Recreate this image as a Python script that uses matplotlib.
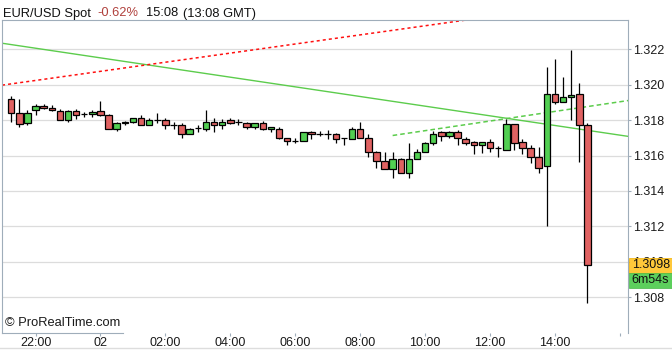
import numpy as np
import pandas as pd
import matplotlib
matplotlib.use('Agg')
import matplotlib.pyplot as plt
import matplotlib.dates as mdates
from matplotlib.patches import Rectangle
from matplotlib.transforms import IdentityTransform

plt.rcParams['font.family'] = ['Liberation Sans', 'DejaVu Sans']

# EUR/USD spot, 15 minute candles
first_bar = '2012-11-01 21:15'
opens = [1.31917, 1.31842, 1.31785, 1.31855, 1.31881, 1.31870, 1.31853, 1.31802,
         1.31853, 1.31834, 1.31832, 1.31853, 1.31830, 1.31751, 1.31791, 1.31789,
         1.31814, 1.31774, 1.31800, 1.31802, 1.31770, 1.31774, 1.31723, 1.31753,
         1.31751, 1.31791, 1.31774, 1.31802, 1.31789, 1.31785, 1.31763, 1.31785,
         1.31751, 1.31751, 1.31701, 1.31681, 1.31684, 1.31735, 1.31723, 1.31723,
         1.31723, 1.31697, 1.31695, 1.31751, 1.31701, 1.31622, 1.31571, 1.31526,
         1.31582, 1.31503, 1.31582, 1.31622, 1.31672, 1.31735, 1.31712, 1.31735,
         1.31695, 1.31674, 1.31661, 1.31674, 1.31644, 1.31633, 1.31776, 1.31674,
         1.31644, 1.31593, 1.31540, 1.31945, 1.31904, 1.31932, 1.31945, 1.31774]
highs = [1.31935, 1.31917, 1.31856, 1.31890, 1.31890, 1.31883, 1.31860, 1.31856,
         1.31864, 1.31845, 1.31856, 1.31906, 1.31832, 1.31787, 1.31793, 1.31814,
         1.31827, 1.31811, 1.31842, 1.31814, 1.31791, 1.31785, 1.31753, 1.31774,
         1.31855, 1.31814, 1.31804, 1.31814, 1.31806, 1.31789, 1.31785, 1.31793,
         1.31763, 1.31763, 1.31701, 1.31701, 1.31735, 1.31736, 1.31738, 1.31742,
         1.31725, 1.31697, 1.31760, 1.31791, 1.31723, 1.31623, 1.31622, 1.31622,
         1.31584, 1.31672, 1.31635, 1.31674, 1.31738, 1.31738, 1.31738, 1.31745,
         1.31702, 1.31681, 1.31674, 1.31695, 1.31652, 1.31806, 1.31779, 1.31691,
         1.31657, 1.31648, 1.32101, 1.32143, 1.32045, 1.32193, 1.32011, 1.31785]
lows = [1.31789, 1.31763, 1.31774, 1.31828, 1.31864, 1.31849, 1.31798, 1.31791,
        1.31804, 1.31815, 1.31815, 1.31823, 1.31750, 1.31738, 1.31772, 1.31783,
        1.31772, 1.31774, 1.31785, 1.31751, 1.31748, 1.31698, 1.31719, 1.31735,
        1.31736, 1.31732, 1.31751, 1.31780, 1.31774, 1.31749, 1.31751, 1.31742,
        1.31735, 1.31695, 1.31659, 1.31670, 1.31684, 1.31693, 1.31708, 1.31695,
        1.31668, 1.31661, 1.31694, 1.31700, 1.31591, 1.31531, 1.31525, 1.31475,
        1.31502, 1.31475, 1.31581, 1.31621, 1.31659, 1.31684, 1.31697, 1.31660,
        1.31657, 1.31610, 1.31614, 1.31619, 1.31593, 1.31632, 1.31633, 1.31608,
        1.31556, 1.31499, 1.31202, 1.31893, 1.31903, 1.31800, 1.31563, 1.30769]
closes = [1.31842, 1.31776, 1.31842, 1.31881, 1.31870, 1.31855, 1.31802, 1.31851,
          1.31827, 1.31834, 1.31843, 1.31830, 1.31751, 1.31785, 1.31785, 1.31811,
          1.31772, 1.31802, 1.31800, 1.31774, 1.31770, 1.31721, 1.31751, 1.31753,
          1.31789, 1.31774, 1.31791, 1.31785, 1.31789, 1.31763, 1.31785, 1.31751,
          1.31763, 1.31701, 1.31684, 1.31681, 1.31735, 1.31723, 1.31723, 1.31723,
          1.31695, 1.31697, 1.31751, 1.31701, 1.31622, 1.31569, 1.31526, 1.31582,
          1.31503, 1.31582, 1.31622, 1.31672, 1.31723, 1.31712, 1.31735, 1.31697,
          1.31672, 1.31661, 1.31674, 1.31644, 1.31644, 1.31776, 1.31672, 1.31644,
          1.31593, 1.31531, 1.31945, 1.31904, 1.31932, 1.31943, 1.31774, 1.30980]

# trend lines drawn on the chart: (time, price) anchors
green_line_t = ['2012-11-01 21:00', '2012-11-02 16:00']
green_line_p = [1.32233, 1.31715]
red_line_t = ['2012-11-01 21:00', '2012-11-02 08:00']
red_line_p = [1.31998, 1.32281]
green_dash_t = ['2012-11-02 09:00', '2012-11-02 16:30']
green_dash_p = [1.31713, 1.31917]

tick_times = ['2012-11-01 22:00', '2012-11-02 00:00', '2012-11-02 02:00',
              '2012-11-02 04:00', '2012-11-02 06:00', '2012-11-02 08:00',
              '2012-11-02 10:00', '2012-11-02 12:00', '2012-11-02 14:00',
              '2012-11-02 16:00']
tick_labels = ['22:00', '02', '02:00', '04:00', '06:00', '08:00', '10:00',
               '12:00', '14:00', '']
price_ticks = [1.308, 1.310, 1.312, 1.314, 1.316, 1.318, 1.320, 1.322]
countdown = '6m54s'

UP = '#52cf52'
DOWN = '#e06262'
FRAME = '#9fadba'

times = pd.date_range(first_bar, periods=len(opens), freq='15min')
x = mdates.date2num(times)
o = np.array(opens)
h = np.array(highs)
l = np.array(lows)
c = np.array(closes)

fig = plt.figure(figsize=(6.72, 3.5), dpi=100)
ax = fig.add_axes([2 / 672, 17 / 350, 626 / 672, 313 / 350])

ax.set_xlim(mdates.date2num(pd.Timestamp('2012-11-01 20:58')),
            mdates.date2num(pd.Timestamp('2012-11-02 16:15')))
ax.set_ylim(1.30598, 1.32365)

ax.grid(axis='y', color='#dcdcdc', lw=0.9, zorder=0)
ax.set_axisbelow(True)

# trend lines (under the candles)
gx = mdates.date2num(pd.to_datetime(green_line_t))
ax.axline((gx[0], green_line_p[0]), (gx[1], green_line_p[1]), color='#5ccc4c', lw=1, zorder=1)
rx = mdates.date2num(pd.to_datetime(red_line_t))
ax.axline((rx[0], red_line_p[0]), (rx[1], red_line_p[1]), color='#ff1010', lw=1.1,
          ls=(0, (2, 2)), zorder=1)
dx = mdates.date2num(pd.to_datetime(green_dash_t))
ax.plot(dx, green_dash_p, color='#5ccc4c', lw=1.1, ls=(0, (3, 2)), zorder=1)

# candles
width = 0.2 / 24
colors = np.where(c >= o, UP, DOWN)
ax.vlines(x, l, h, color='black', lw=0.9, zorder=2)
ax.bar(x, np.abs(c - o), bottom=np.minimum(o, c), width=width, color=colors,
       edgecolor='black', linewidth=0.9, zorder=3)

# axes styling
for side in ['left', 'top', 'right']:
    ax.spines[side].set_color(FRAME)
ax.spines['bottom'].set_visible(False)
ax.yaxis.tick_right()
ax.set_yticks(price_ticks, ['%.3f' % p for p in price_ticks])
ax.set_xticks(mdates.date2num(pd.to_datetime(tick_times)), tick_labels)
ax.tick_params(axis='y', length=2.5, width=0.8, color=FRAME, pad=1.5,
               labelsize=9, labelcolor='#1a1a1a')
ax.tick_params(axis='x', length=2, width=0.8, color=FRAME, pad=1,
               labelsize=9, labelcolor='#1a1a1a')

# watermark
ax.text(0.004, 0.012, '\u00a9 ProRealTime.com', transform=ax.transAxes,
        fontsize=9.3, color='#1a1a1a', va='bottom')
ax.plot([0, 0.194], [0, 0], transform=ax.transAxes, color=FRAME, lw=0.8, clip_on=False)

# title
t1 = fig.text(3 / 672, 333.5 / 350, 'EUR/USD Spot', fontsize=9.3, color='#111111')
t2 = ax.annotate('-0.62%', xy=(1, 0), xycoords=t1, xytext=(4.5, 0),
                 textcoords='offset points', fontsize=9.3, color='#b0403c',
                 va='bottom', annotation_clip=False)
t3 = ax.annotate('15:08', xy=(1, 0), xycoords=t2, xytext=(5.5, 0),
                 textcoords='offset points', fontsize=9.3, color='#111111',
                 va='bottom', annotation_clip=False)
ax.annotate('(13:08 GMT)', xy=(1, 0), xycoords=t3, xytext=(3.5, 0),
            textcoords='offset points', fontsize=9.3, color='#111111',
            va='bottom', annotation_clip=False)

# last price and countdown boxes on the price scale
ax_right = ax.get_position().x1 * fig.bbox.width
_, yc = ax.transData.transform((x[-1], c[-1]))
box_w = fig.bbox.width - ax_right
fig.add_artist(Rectangle((ax_right + 1, yc - 7.7), box_w, 15.4, transform=IdentityTransform(),
                         facecolor='#ffc83a', edgecolor='#f0b000', lw=0.5))
fig.text(ax_right + 4, yc, '%.4f' % c[-1], transform=IdentityTransform(),
         va='center', fontsize=9, color='#111111')
fig.add_artist(Rectangle((ax_right + 1, yc - 7.7 - 14.5), box_w, 14.5,
                         transform=IdentityTransform(), facecolor='#5ccf5c',
                         edgecolor='#46b846', lw=0.5))
fig.text(ax_right + 3, yc - 7.7 - 7.25, countdown, transform=IdentityTransform(),
         va='center', fontsize=9, color='#111111')

# scroll bar edge at the bottom
fig.add_artist(plt.Line2D([0, 1], [2 / 350, 2 / 350], transform=fig.transFigure,
                          color='#dddddd', lw=1))

fig.savefig('out.png', dpi=100)
